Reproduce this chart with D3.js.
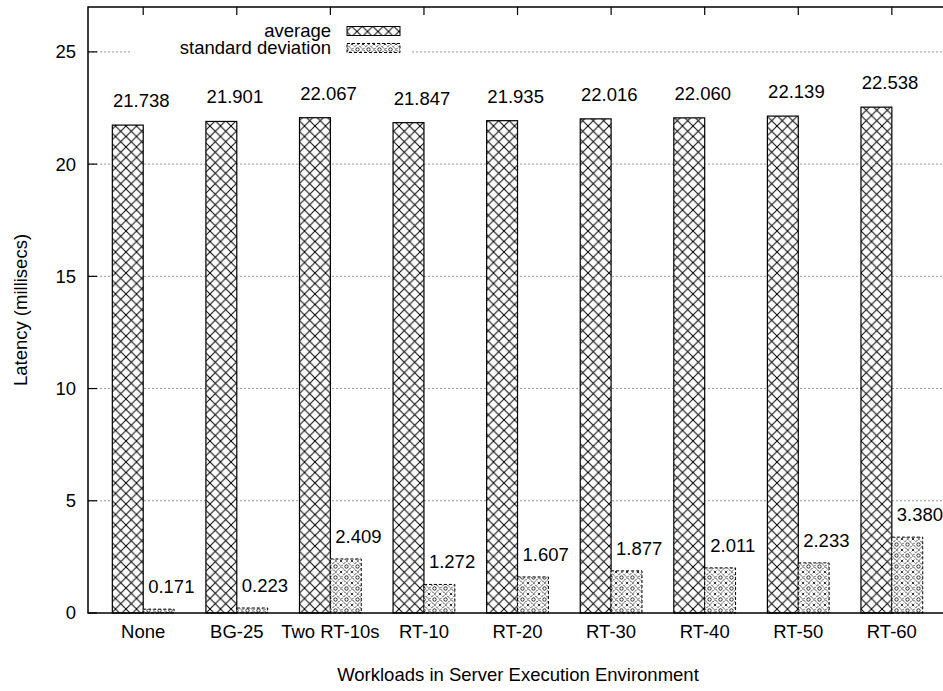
<!DOCTYPE html>
<html>
<head>
<meta charset="utf-8">
<script src="https://cdn.jsdelivr.net/npm/d3@7"></script>
<style>
  body { margin: 0; background: #fff; }
  text { font-family: "Liberation Sans", Arial, sans-serif; fill: #000; }
</style>
</head>
<body>
<svg id="chart" width="943" height="691"></svg>
<script>
// Chart data
var categories = ["None", "BG-25", "Two RT-10s", "RT-10", "RT-20", "RT-30", "RT-40", "RT-50", "RT-60"];
var average = [21.738, 21.901, 22.067, 21.847, 21.935, 22.016, 22.060, 22.139, 22.538];
var stddev = [0.171, 0.223, 2.409, 1.272, 1.607, 1.877, 2.011, 2.233, 3.380];
var yTicks = [0, 5, 10, 15, 20, 25];

var plotLeft = 88, plotRight = 948, plotTop = 7, plotBottom = 613;
var fontSize = "18.5px";

var svg = d3.select("#chart");

// x is in category units, y in milliseconds
var x = d3.scaleLinear().domain([-0.59, 8.6]).range([plotLeft, plotRight]);
var y = d3.scaleLinear().domain([0, 27]).range([plotBottom, plotTop]);
var barW = x(0.33) - x(0);
var fmt = d3.format(".3f");

// Patterns for the two series
var defs = svg.append("defs");
var p1 = defs.append("pattern")
  .attr("id", "avgPat")
  .attr("patternUnits", "userSpaceOnUse")
  .attr("width", 10.5).attr("height", 10.5);
p1.append("rect").attr("width", 10.5).attr("height", 10.5).attr("fill", "#fff");
p1.append("path").attr("d", "M0,0L10.5,10.5M10.5,0L0,10.5")
  .attr("stroke", "#000").attr("stroke-width", 1);

var p2 = defs.append("pattern")
  .attr("id", "sdPat")
  .attr("patternUnits", "userSpaceOnUse")
  .attr("width", 11).attr("height", 11);
p2.append("rect").attr("width", 11).attr("height", 11).attr("fill", "#fff");
p2.append("path").attr("d", "M0,5.5L5.5,0L11,5.5L5.5,11Z")
  .attr("stroke", "#000").attr("stroke-width", 0.8).attr("fill", "none")
  .attr("stroke-dasharray", "2.5,1");
p2.append("circle").attr("cx", 5.5).attr("cy", 5.5).attr("r", 1.7)
  .attr("fill", "none").attr("stroke", "#000").attr("stroke-width", 0.8);
p2.append("path").attr("d", "M-1.3,-1.3L1.3,1.3M1.3,-1.3L-1.3,1.3M9.7,9.7L12.3,12.3M12.3,9.7L9.7,12.3M9.7,-1.3L12.3,1.3M12.3,-1.3L9.7,1.3M-1.3,9.7L1.3,12.3M1.3,9.7L-1.3,12.3")
  .attr("stroke", "#000").attr("stroke-width", 0.8);

// Grid lines
svg.append("g").selectAll("line")
  .data(yTicks.filter(function(d) { return d > 0; }))
  .enter().append("line")
  .attr("x1", plotLeft).attr("x2", plotRight)
  .attr("y1", function(d) { return y(d); })
  .attr("y2", function(d) { return y(d); })
  .attr("stroke", "#999")
  .attr("stroke-width", 1)
  .attr("stroke-dasharray", "2,2");

// Legend (white box hides the grid line behind it)
var legend = svg.append("g");
legend.append("rect")
  .attr("x", 131).attr("y", 20).attr("width", 280).attr("height", 40)
  .attr("fill", "#fff");
var legendItems = [
  { name: "average", fill: "url(#avgPat)", dash: null, cy: 31 },
  { name: "standard deviation", fill: "url(#sdPat)", dash: "3,2", cy: 48 }
];
legendItems.forEach(function(d) {
  legend.append("text")
    .attr("x", 331).attr("y", d.cy)
    .attr("dy", "0.35em")
    .attr("text-anchor", "end")
    .style("font-size", fontSize)
    .text(d.name);
  legend.append("rect")
    .attr("x", 347).attr("y", d.cy - 4.5)
    .attr("width", 53).attr("height", 9)
    .attr("fill", d.fill)
    .attr("stroke", "#000")
    .attr("stroke-width", 1)
    .attr("stroke-dasharray", d.dash);
});

// Bars
var bars = svg.append("g");
bars.selectAll("rect.avg")
  .data(average)
  .enter().append("rect")
  .attr("class", "avg")
  .attr("x", function(d, i) { return x(i) - barW; })
  .attr("y", function(d) { return y(d); })
  .attr("width", barW)
  .attr("height", function(d) { return plotBottom - y(d); })
  .attr("fill", "url(#avgPat)")
  .attr("stroke", "#000")
  .attr("stroke-width", 1.2);

bars.selectAll("rect.sd")
  .data(stddev)
  .enter().append("rect")
  .attr("class", "sd")
  .attr("x", function(d, i) { return x(i); })
  .attr("y", function(d) { return y(d); })
  .attr("width", barW)
  .attr("height", function(d) { return plotBottom - y(d); })
  .attr("fill", "url(#sdPat)")
  .attr("stroke", "#000")
  .attr("stroke-width", 1)
  .attr("stroke-dasharray", "3,2");

// Value labels
svg.append("g").selectAll("text")
  .data(average)
  .enter().append("text")
  .attr("x", function(d, i) { return x(i - 0.02); })
  .attr("y", function(d) { return y(d) - 18; })
  .attr("text-anchor", "middle")
  .style("font-size", fontSize)
  .text(function(d) { return fmt(d); });

svg.append("g").selectAll("text")
  .data(stddev)
  .enter().append("text")
  .attr("x", function(d, i) { return x(i + 0.3); })
  .attr("y", function(d) { return y(d) - 16; })
  .attr("text-anchor", "middle")
  .style("font-size", fontSize)
  .text(function(d) { return fmt(d); });

// Frame
svg.append("rect")
  .attr("x", plotLeft).attr("y", plotTop)
  .attr("width", plotRight - plotLeft).attr("height", plotBottom - plotTop)
  .attr("fill", "none")
  .attr("stroke", "#000")
  .attr("stroke-width", 1.5);

// Y axis ticks (inward) and labels
var yAxis = svg.append("g");
yAxis.selectAll("line")
  .data(yTicks)
  .enter().append("line")
  .attr("x1", plotLeft).attr("x2", plotLeft + 9)
  .attr("y1", function(d) { return y(d); })
  .attr("y2", function(d) { return y(d); })
  .attr("stroke", "#000").attr("stroke-width", 1.2);
yAxis.selectAll("text")
  .data(yTicks)
  .enter().append("text")
  .attr("x", 76)
  .attr("y", function(d) { return y(d); })
  .attr("dy", "0.35em")
  .attr("text-anchor", "end")
  .style("font-size", fontSize)
  .text(function(d) { return d; });

// X axis ticks on top, category labels below
var xAxis = svg.append("g");
xAxis.selectAll("line.top")
  .data(categories)
  .enter().append("line")
  .attr("class", "top")
  .attr("x1", function(d, i) { return x(i); })
  .attr("x2", function(d, i) { return x(i); })
  .attr("y1", plotTop).attr("y2", plotTop + 8)
  .attr("stroke", "#000").attr("stroke-width", 1.2);
xAxis.selectAll("text")
  .data(categories)
  .enter().append("text")
  .attr("x", function(d, i) { return x(i); })
  .attr("y", 632)
  .attr("dy", "0.35em")
  .attr("text-anchor", "middle")
  .style("font-size", fontSize)
  .text(function(d) { return d; });

// Axis titles
svg.append("text")
  .attr("x", (plotLeft + plotRight) / 2)
  .attr("y", 675)
  .attr("dy", "0.35em")
  .attr("text-anchor", "middle")
  .style("font-size", fontSize)
  .text("Workloads in Server Execution Environment");

svg.append("text")
  .attr("transform", "translate(21," + ((plotTop + plotBottom) / 2) + ") rotate(-90)")
  .attr("dy", "0.35em")
  .attr("text-anchor", "middle")
  .style("font-size", fontSize)
  .text("Latency (millisecs)");
</script>
</body>
</html>
